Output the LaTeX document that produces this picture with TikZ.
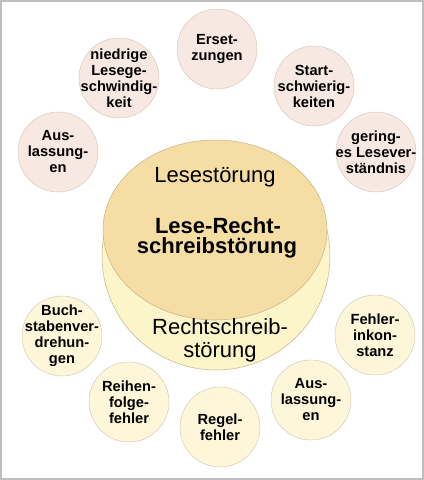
\documentclass[tikz,border=0pt]{standalone}
\usepackage{fontspec}
\setmainfont{Liberation Sans}
\usetikzlibrary{shapes.geometric}
\definecolor{lrsfill}{HTML}{F6DDA4}
\definecolor{rsfill}{HTML}{FDF5CA}
\definecolor{bigline}{HTML}{C4B58E}
\definecolor{rosa}{HTML}{F8E8E2}
\definecolor{hellgelb}{HTML}{FDF6D8}
\definecolor{smallline}{HTML}{D6CCBE}
\definecolor{rahmen}{HTML}{BEBEBE}
\begin{document}
\begin{tikzpicture}[x=0.75pt,y=-0.75pt,
 lesen/.style={circle,draw=smallline,fill=rosa,minimum size=60pt,inner sep=0pt},
 schreiben/.style={circle,draw=smallline,fill=hellgelb,minimum size=60pt,inner sep=0pt},
 kl/.style={align=center,font=\fontsize{11}{12}\selectfont\bfseries},
 gr/.style={anchor=base,inner sep=0pt,font=\fontsize{16.5}{18}\selectfont},
 grb/.style={gr,font=\fontsize{16.5}{18}\selectfont\bfseries}]
\useasboundingbox (0,0) rectangle (424,480);
\draw[rahmen,line width=1.1pt] (0.8,0.8) rectangle (423.2,479.2);
% zentrale Kreise
\node[circle,draw=bigline,fill=rsfill,minimum size=171pt,inner sep=0pt] (rs) at (216,256) {};
\node[ellipse,draw=bigline,fill=lrsfill,minimum width=168pt,minimum height=135pt,inner sep=0pt] (lrs) at (215,230) {};
\node[gr] (lesetxt) at (215,182) {Lesestörung};
\node[grb] (lrstxt1) at (218,233) {Lese-Recht-};
\node[grb] (lrstxt2) at (217,253) {schreibstörung};
\node[gr] (rstxt1) at (220,334) {Rechtschreib-};
\node[gr] (rstxt2) at (220,357) {störung};
% Lesestoerung
\node[lesen,label={[kl]center:Erset-\\zungen}] (ersetz) at (217,49) {};
\node[lesen,label={[kl]center:niedrige\\Lesege-\\schwindig-\\keit}] (tempo) at (119,78) {};
\node[lesen,label={[kl]center:Aus-\\lassung-\\en}] (auslL) at (58,152) {};
\node[lesen,label={[kl]center:Start-\\schwierig-\\keiten}] (start) at (314,86) {};
\node[lesen,label={[kl]center:gering-\\es Lesever-\\ständnis}] (verst) at (376,152) {};
% Rechtschreibstoerung
\node[schreiben,label={[kl]center:Buch-\\stabenver-\\drehun-\\gen}] (dreh) at (62,336) {};
\node[schreiben,label={[kl]center:Reihen-\\folge-\\fehler}] (reihe) at (129,402) {};
\node[schreiben,label={[kl]center:Regel-\\fehler}] (regel) at (220,427) {};
\node[schreiben,label={[kl]center:Aus-\\lassung-\\en}] (auslR) at (311,400) {};
\node[schreiben,label={[kl]center:Fehler-\\inkon-\\stanz}] (inkon) at (375,335) {};
\end{tikzpicture}
\end{document}
